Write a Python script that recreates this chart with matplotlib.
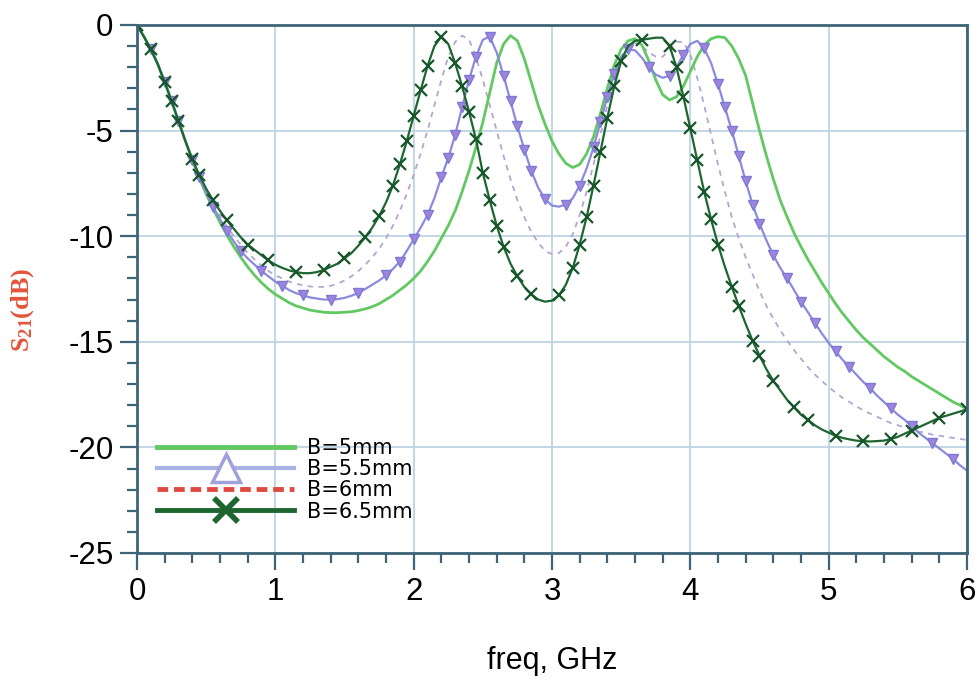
import numpy as np
import matplotlib
matplotlib.use("Agg")
import matplotlib.pyplot as plt
from matplotlib.lines import Line2D
from matplotlib.ticker import MultipleLocator

plt.rcParams['axes.unicode_minus'] = False
plt.rcParams['mathtext.fontset'] = 'custom'
plt.rcParams['mathtext.rm'] = 'Liberation Serif'
plt.rcParams['mathtext.bf'] = 'Liberation Serif:bold'

# frequency sweep, GHz (0.05 GHz step)
freq = np.linspace(0, 6, 121)

# S21 in dB, one row per 0.5 GHz
s21_5mm = [
    0, -0.55, -1.15, -1.85, -2.7, -3.6, -4.55, -5.5, -6.4, -7.25,
    -8.0, -8.7, -9.35, -9.95, -10.5, -11.0, -11.45, -11.85, -12.2, -12.5,
    -12.75, -12.95, -13.15, -13.3, -13.4, -13.5, -13.55, -13.6, -13.62, -13.62,
    -13.6, -13.58, -13.52, -13.44, -13.34, -13.2, -13.0, -12.8, -12.55, -12.3,
    -12.0, -11.65, -11.2, -10.7, -10.1, -9.5, -8.8, -7.9, -6.9, -5.8,
    -4.6, -3.2, -1.8, -0.9, -0.5, -0.75, -1.6, -2.7, -3.8, -4.7,
    -5.5, -6.1, -6.55, -6.75, -6.6, -6.1, -5.3, -4.2, -3.0, -1.9,
    -1.15, -0.75, -0.65, -0.95, -1.7, -2.6, -3.3, -3.55, -3.4, -2.9,
    -2.2, -1.5, -0.95, -0.65, -0.55, -0.6, -1.0, -1.6, -2.4, -3.7,
    -5.0, -6.2, -7.3, -8.3, -9.1, -9.85, -10.5, -11.1, -11.65, -12.2,
    -12.7, -13.2, -13.65, -14.05, -14.45, -14.8, -15.1, -15.4, -15.7, -15.95,
    -16.2, -16.4, -16.65, -16.85, -17.05, -17.25, -17.45, -17.65, -17.85, -18.0,
    -18.2]

s21_55mm = [
    0, -0.55, -1.15, -1.85, -2.7, -3.6, -4.55, -5.5, -6.4, -7.2,
    -7.95, -8.6, -9.2, -9.75, -10.25, -10.7, -11.05, -11.35, -11.65, -11.9,
    -12.15, -12.35, -12.55, -12.7, -12.8, -12.9, -12.95, -13.0, -13.0, -12.98,
    -12.92, -12.82, -12.68, -12.5, -12.3, -12.1, -11.85, -11.55, -11.2, -10.7,
    -10.15, -9.6, -9.0, -8.2, -7.2, -6.3, -5.2, -3.9, -2.6, -1.5,
    -0.7, -0.55, -1.3, -2.4, -3.6, -4.8, -5.9, -6.9, -7.7, -8.25,
    -8.55, -8.6, -8.5, -8.2, -7.6, -6.8, -5.8, -4.6, -3.4, -2.3,
    -1.5, -1.15, -1.2, -1.55, -2.0, -2.35, -2.5, -2.4, -2.0, -1.4,
    -0.9, -0.75, -1.1, -1.8, -2.8, -3.9, -5.0, -6.2, -7.4, -8.5,
    -9.4, -10.2, -10.9, -11.5, -12.0, -12.55, -13.1, -13.6, -14.1, -14.6,
    -15.05, -15.45, -15.85, -16.2, -16.55, -16.9, -17.2, -17.55, -17.85, -18.15,
    -18.45, -18.7, -19.0, -19.3, -19.55, -19.8, -20.05, -20.3, -20.55, -20.85,
    -21.1]

s21_6mm = [
    0, -0.55, -1.15, -1.85, -2.7, -3.6, -4.55, -5.5, -6.4, -7.15,
    -7.9, -8.5, -9.05, -9.55, -10.0, -10.4, -10.8, -11.1, -11.4, -11.65,
    -11.85, -12.0, -12.15, -12.25, -12.32, -12.38, -12.4, -12.4, -12.35, -12.25,
    -12.1, -11.9, -11.65, -11.35, -11.0, -10.6, -10.1, -9.5, -8.8, -8.0,
    -7.1, -6.1, -5.0, -3.8, -2.6, -1.5, -0.8, -0.5, -0.7, -1.5,
    -2.6, -3.8, -5.0, -6.2, -7.3, -8.3, -9.1, -9.8, -10.3, -10.7,
    -10.85, -10.8, -10.5, -9.9, -9.0, -7.9, -6.6, -5.2, -3.8, -2.5,
    -1.5, -1.0, -0.85, -1.0, -1.3, -1.5, -1.5, -1.2, -0.8, -0.8,
    -1.4, -2.5, -3.8, -5.2, -6.6, -7.9, -9.1, -10.1, -11.0, -11.8,
    -12.6, -13.3, -13.9, -14.45, -14.95, -15.4, -15.8, -16.2, -16.55, -16.85,
    -17.15, -17.4, -17.65, -17.85, -18.05, -18.25, -18.4, -18.55, -18.7, -18.85,
    -18.95, -19.05, -19.15, -19.25, -19.3, -19.4, -19.45, -19.5, -19.55, -19.6,
    -19.65]

s21_65mm = [
    0, -0.55, -1.15, -1.85, -2.7, -3.6, -4.55, -5.5, -6.35, -7.1,
    -7.75, -8.3, -8.8, -9.25, -9.65, -10.05, -10.4, -10.65, -10.9, -11.15,
    -11.35, -11.5, -11.62, -11.7, -11.75, -11.75, -11.7, -11.6, -11.45, -11.3,
    -11.05, -10.8, -10.45, -10.05, -9.6, -9.05, -8.4, -7.6, -6.6, -5.5,
    -4.3, -3.1, -1.95, -1.0, -0.55, -0.9, -1.8, -2.9, -4.1, -5.4,
    -7.0, -8.3, -9.5, -10.5, -11.3, -11.9, -12.4, -12.75, -13.0, -13.1,
    -13.05, -12.8, -12.3, -11.5, -10.4, -9.1, -7.6, -6.0, -4.4, -2.9,
    -1.7, -1.0, -0.75, -0.7, -0.65, -0.6, -0.6, -1.0, -2.0, -3.4,
    -4.9, -6.4, -7.9, -9.2, -10.4, -11.45, -12.4, -13.3, -14.15, -14.95,
    -15.65, -16.3, -16.85, -17.3, -17.75, -18.1, -18.45, -18.7, -18.95, -19.15,
    -19.3, -19.45, -19.55, -19.62, -19.68, -19.7, -19.72, -19.7, -19.68, -19.6,
    -19.5, -19.35, -19.2, -19.05, -18.9, -18.75, -18.6, -18.5, -18.4, -18.3,
    -18.2]

labels = ["B=5mm", "B=5.5mm", "B=6mm", "B=6.5mm"]

c_green = '#62c862'
c_lav = '#8a8ade'
c_dash = '#b4a4d0'
c_dark = '#1d6630'
c_axis = '#3e6478'

fig = plt.figure(figsize=(9.78, 6.88), dpi=100)
ax = fig.add_axes([137 / 978, 1 - 553 / 688, 830 / 978, 528 / 688])

ax.plot(freq, s21_6mm, color=c_dash, lw=1.3, ls=(0, (3, 3)))
ax.plot(freq, s21_5mm, color=c_green, lw=2.0)
ax.plot(freq, s21_55mm, color=c_lav, lw=1.6, marker='v', ms=7,
        mfc='#a283dc', mec='#7a7ad6', mew=1, markevery=0.028)
ax.plot(freq, s21_65mm, color=c_dark, lw=1.6, marker='x', ms=8,
        mew=1.6, mec='#17552a', markevery=0.028)

ax.set_xlim(0, 6)
ax.set_ylim(-25, 0)
ax.xaxis.set_major_locator(MultipleLocator(1))
ax.xaxis.set_minor_locator(MultipleLocator(0.2))
ax.yaxis.set_major_locator(MultipleLocator(5))
ax.yaxis.set_minor_locator(MultipleLocator(1))
ax.grid(True, which='major', color='#b9d0df', lw=1.2)
ax.set_axisbelow(True)

for s in ax.spines.values():
    s.set_color(c_axis)
    s.set_linewidth(2)
ax.tick_params(which='major', length=12, width=1.6, color=c_axis,
               labelsize=22.5, pad=5)
ax.tick_params(which='minor', length=7, width=1.6, color=c_axis)
for t in ax.get_xticklabels() + ax.get_yticklabels():
    t.set_fontfamily('Liberation Sans')

ax.set_xlabel("freq, GHz", fontsize=22, family='Liberation Sans', labelpad=28)
ax.set_ylabel(r'$\mathbf{S_{21}(dB)}$', fontsize=19, color='#e2553a')
ax.yaxis.set_label_coords(-0.122, 0.46)

handles = [
    Line2D([], [], color=c_green, lw=3.5),
    Line2D([], [], color='#a9b2e2', lw=3, marker='^', ms=20, mfc='white',
           mec='#a0a0dc', mew=2.5),
    Line2D([], [], color='#e04a40', lw=3.5, ls=(0, (2.2, 1.2))),
    Line2D([], [], color=c_dark, lw=3.5, marker='x', ms=17, mew=4),
]
ax.legend(handles, labels, loc='upper left', bbox_to_anchor=(0.024, 0.218),
          frameon=False, fontsize=15, handlelength=6.6, handletextpad=0.62,
          labelspacing=0.06, borderpad=0, borderaxespad=0)

plt.savefig("out.png", dpi=100)
